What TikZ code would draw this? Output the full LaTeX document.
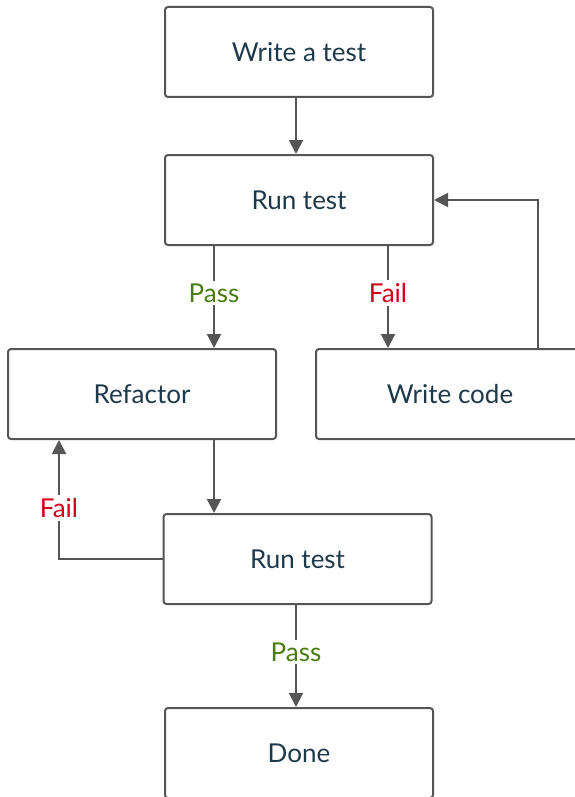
\documentclass[tikz,border=0pt]{standalone}
\usepackage{fontspec}
\setmainfont{Lato}
\usetikzlibrary{arrows.meta}
\definecolor{boxline}{HTML}{555555}
\definecolor{txt}{HTML}{1E3A4A}
\definecolor{passc}{HTML}{4A7C12}
\definecolor{failc}{HTML}{D0021B}
\begin{document}
\begin{tikzpicture}[x=1pt,y=-1pt,
  stepbox/.style={draw=boxline,line width=2pt,rounded corners=3pt,fill=white,
    minimum width=268pt,minimum height=90pt,inner sep=0pt,text=txt,font=\fontsize{26}{30}\selectfont},
  conn/.style={draw=boxline,line width=2pt,-{Triangle[length=14pt,width=14pt]}},
  lbl/.style={fill=white,inner sep=3pt,font=\fontsize{26}{30}\selectfont}]
\useasboundingbox (0,0) rectangle (575,797);
\clip (0,0) rectangle (575,797);
\node[stepbox] (write) at (299,52) {Write a test};
\node[stepbox] (run1) at (299,200) {Run test};
\node[stepbox] (refactor) at (142,394) {Refactor};
\node[stepbox] (code) at (450,394) {Write code};
\node[stepbox] (run2) at (297.5,559) {Run test};
\node[stepbox] (done) at (299,753) {Done};
\coordinate (loopc) at (538,200);
\coordinate (loopl) at (59,559);
\draw[conn] (write.south -| 296,0) -- (run1.north -| 296,0);
\draw[conn] (run1.south -| 214,0) -- node[lbl,text=passc,yshift=4pt] {Pass} (refactor.north -| 214,0);
\draw[conn] (run1.south -| 388,0) -- node[lbl,text=failc,yshift=4pt] {Fail} (code.north -| 388,0);
\draw[conn] (code.north -| loopc) -- (loopc) -- (run1.east);
\draw[conn] (refactor.south -| 214,0) -- (run2.north -| 214,0);
\draw[conn] (run2.west) -- (loopl) -- node[lbl,text=failc,pos=0.43] {Fail} (refactor.south -| loopl);
\draw[conn] (run2.south -| 296,0) -- node[lbl,text=passc,yshift=4pt] {Pass} (done.north -| 296,0);
\end{tikzpicture}
\end{document}
